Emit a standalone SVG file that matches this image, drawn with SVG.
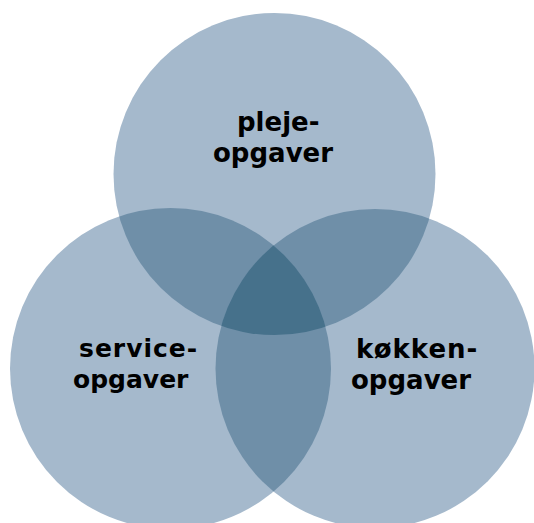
<svg xmlns="http://www.w3.org/2000/svg" width="534" height="523" viewBox="0 0 534 523">
  <style>
    .c1 { fill: #a5b9cc; }
    .c2 { fill: #6f8fa8; }
    .c3 { fill: #46718b; }
    .lbl { font-family: "DejaVu Sans", "Noto Sans", sans-serif; font-weight: 700; fill: #000; }
  </style>
  <defs>
    <clipPath id="clipTop"><circle cx="274.5" cy="174" r="161"/></clipPath>
    <clipPath id="clipLeft"><circle cx="170.5" cy="368.5" r="160.5"/></clipPath>
    <clipPath id="clipRight"><circle cx="375" cy="368.5" r="159.5"/></clipPath>
  </defs>
  <rect width="534" height="523" fill="#ffffff"/>
  <g id="circles">
    <circle id="circle-top" class="c1" cx="274.5" cy="174" r="161"/>
    <circle id="circle-left" class="c1" cx="170.5" cy="368.5" r="160.5"/>
    <circle id="circle-right" class="c1" cx="375" cy="368.5" r="159.5"/>
    <g id="overlap-top-left" clip-path="url(#clipTop)"><circle class="c2" cx="170.5" cy="368.5" r="160.5"/></g>
    <g id="overlap-top-right" clip-path="url(#clipTop)"><circle class="c2" cx="375" cy="368.5" r="159.5"/></g>
    <g id="overlap-left-right" clip-path="url(#clipLeft)"><circle class="c2" cx="375" cy="368.5" r="159.5"/></g>
    <g id="overlap-all" clip-path="url(#clipTop)"><g clip-path="url(#clipLeft)"><circle class="c3" cx="375" cy="368.5" r="159.5"/></g></g>
  </g>
  <g id="label-top">
    <text class="lbl" font-size="26" x="237" y="131">pleje-</text>
    <text class="lbl" font-size="26" x="213" y="162">opgaver</text>
  </g>
  <g id="label-left">
    <text class="lbl" font-size="25" x="79" y="357" letter-spacing="1">service-</text>
    <text class="lbl" font-size="25" x="73" y="388">opgaver</text>
  </g>
  <g id="label-right">
    <text class="lbl" font-size="26" x="356" y="358" letter-spacing="1">køkken-</text>
    <text class="lbl" font-size="26" x="351" y="389">opgaver</text>
  </g>
</svg>
